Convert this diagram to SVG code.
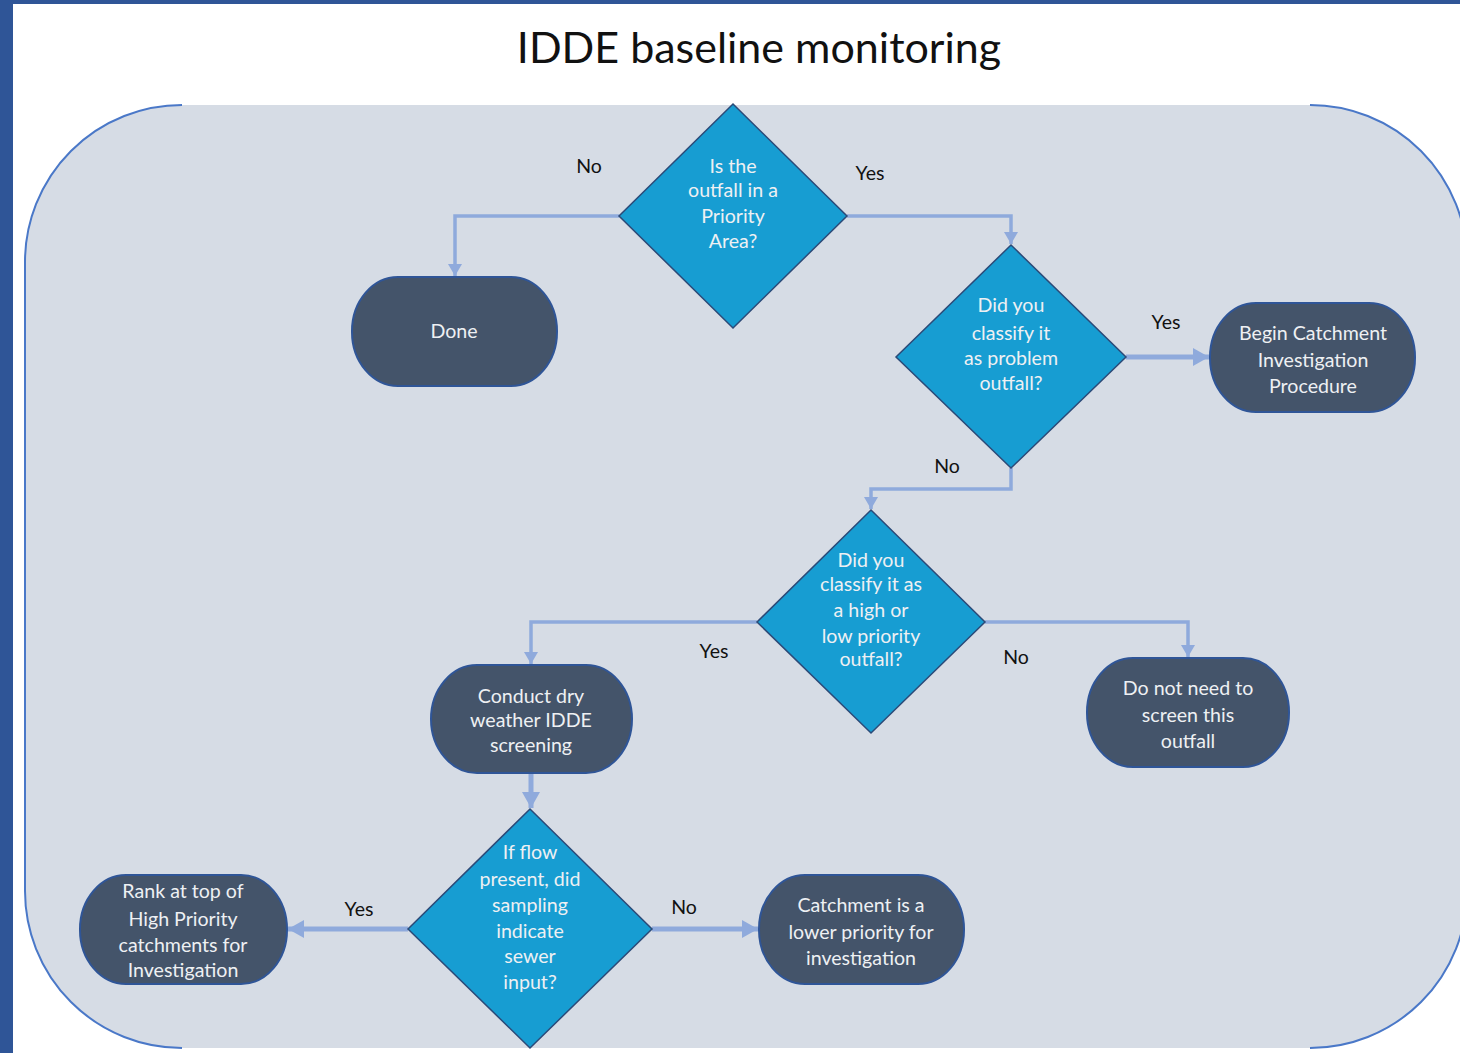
<svg xmlns="http://www.w3.org/2000/svg" width="1460" height="1053" viewBox="0 0 1460 1053">
<style>
.nt{font-family:Lato,"Open Sans","Liberation Sans",sans-serif;font-size:19.6px;fill:#eef0f3;text-anchor:middle}
.lb{font-family:Lato,"Open Sans","Liberation Sans",sans-serif;font-size:19.5px;fill:#111;text-anchor:middle}
.dia{fill:#179dd2;stroke:#2b4a78;stroke-width:1.5}
.pill{fill:#44546a;stroke:#2f5597;stroke-width:2}
.ln{fill:none;stroke:#8faadc;stroke-width:3.5}
.lnb{fill:none;stroke:#8faadc;stroke-width:5}
.frame{fill:none;stroke:#4a78c8;stroke-width:2}
</style>
<defs>
<marker id="ah" markerUnits="userSpaceOnUse" markerWidth="14" markerHeight="14" refX="12" refY="7" orient="auto"><path d="M0,0 L12,7 L0,14 Z" fill="#8faadc"/></marker>
<marker id="ahb" markerUnits="userSpaceOnUse" markerWidth="18" markerHeight="20" refX="16" refY="10" orient="auto"><path d="M0,1 L16,10 L0,19 Z" fill="#8faadc"/></marker>
</defs>
<rect x="0" y="0" width="1460" height="1053" fill="#ffffff"/>
<rect x="0" y="0" width="1460" height="4" fill="#2f5597"/>
<rect x="0" y="0" width="13" height="1053" fill="#2f5597"/>
<g id="panel">
<rect x="25" y="105" width="1442" height="943" rx="157" ry="157" fill="#d6dce5"/>
<path class="frame" d="M182,105 A157,157 0 0 0 25,262 L25,891 A157,157 0 0 0 182,1048"/>
<path class="frame" d="M1310,105 A157,157 0 0 1 1467,262"/>
<path class="frame" d="M1467,891 A157,157 0 0 1 1310,1048"/>
</g>
<text x="759" y="63" font-family="Lato,'Open Sans','Liberation Sans',sans-serif" font-size="43" fill="#111" text-anchor="middle">IDDE baseline monitoring</text>
<g id="connectors">
<path class="ln" d="M619,216 H455 V276" marker-end="url(#ah)"/>
<path class="ln" d="M847,216 H1011 V244" marker-end="url(#ah)"/>
<path class="lnb" d="M1126,357 H1209" marker-end="url(#ahb)"/>
<path class="ln" d="M1011,468 V489 H871 V509" marker-end="url(#ah)"/>
<path class="ln" d="M757,622 H531 V664" marker-end="url(#ah)"/>
<path class="ln" d="M985,622 H1188 V657" marker-end="url(#ah)"/>
<path class="lnb" d="M531,773 V808" marker-end="url(#ahb)"/>
<path class="lnb" d="M408,929 H288" marker-end="url(#ahb)"/>
<path class="lnb" d="M652,929 H758" marker-end="url(#ahb)"/>
<text class="lb" x="589" y="173">No</text>
<text class="lb" x="870" y="180">Yes</text>
<text class="lb" x="1166" y="329">Yes</text>
<text class="lb" x="947" y="473">No</text>
<text class="lb" x="714" y="658">Yes</text>
<text class="lb" x="1016" y="664">No</text>
<text class="lb" x="359" y="916">Yes</text>
<text class="lb" x="684" y="914">No</text>
</g>
<g id="d1">
<polygon class="dia" points="733,104 847,216 733,328 619,216"/>
<text class="nt" x="733" y="173">Is the</text>
<text class="nt" x="733" y="197">outfall in a</text>
<text class="nt" x="733" y="223">Priority</text>
<text class="nt" x="733" y="248">Area?</text>
</g>
<g id="done">
<rect class="pill" x="352" y="277" width="205" height="109" rx="46" ry="54"/>
<text class="nt" x="454" y="338">Done</text>
</g>
<g id="d2">
<polygon class="dia" points="1011,245 1126,357 1011,468 896,357"/>
<text class="nt" x="1011" y="312">Did you</text>
<text class="nt" x="1011" y="340">classify it</text>
<text class="nt" x="1011" y="365">as problem</text>
<text class="nt" x="1011" y="390">outfall?</text>
</g>
<g id="begin">
<rect class="pill" x="1210" y="303" width="205" height="109" rx="46" ry="54"/>
<text class="nt" x="1313" y="340">Begin Catchment</text>
<text class="nt" x="1313" y="367">Investigation</text>
<text class="nt" x="1313" y="393">Procedure</text>
</g>
<g id="d3">
<polygon class="dia" points="871,510 985,622 871,733 757,622"/>
<text class="nt" x="871" y="567">Did you</text>
<text class="nt" x="871" y="591">classify it as</text>
<text class="nt" x="871" y="617">a high or</text>
<text class="nt" x="871" y="643">low priority</text>
<text class="nt" x="871" y="666">outfall?</text>
</g>
<g id="conduct">
<rect class="pill" x="431" y="665" width="201" height="108" rx="46" ry="54"/>
<text class="nt" x="531" y="703">Conduct dry</text>
<text class="nt" x="531" y="727">weather IDDE</text>
<text class="nt" x="531" y="752">screening</text>
</g>
<g id="donot">
<rect class="pill" x="1087" y="658" width="202" height="109" rx="46" ry="54"/>
<text class="nt" x="1188" y="695">Do not need to</text>
<text class="nt" x="1188" y="722">screen this</text>
<text class="nt" x="1188" y="748">outfall</text>
</g>
<g id="d4">
<polygon class="dia" points="530,809 652,929 530,1048 408,929"/>
<text class="nt" x="530" y="859">If flow</text>
<text class="nt" x="530" y="886">present, did</text>
<text class="nt" x="530" y="912">sampling</text>
<text class="nt" x="530" y="938">indicate</text>
<text class="nt" x="530" y="963">sewer</text>
<text class="nt" x="530" y="989">input?</text>
</g>
<g id="rank">
<rect class="pill" x="80" y="875" width="207" height="109" rx="46" ry="54"/>
<text class="nt" x="183" y="898">Rank at top of</text>
<text class="nt" x="183" y="926">High Priority</text>
<text class="nt" x="183" y="952">catchments for</text>
<text class="nt" x="183" y="977">Investigation</text>
</g>
<g id="catch">
<rect class="pill" x="759" y="875" width="205" height="109" rx="46" ry="54"/>
<text class="nt" x="861" y="912">Catchment is a</text>
<text class="nt" x="861" y="939">lower priority for</text>
<text class="nt" x="861" y="965">investigation</text>
</g>
</svg>
